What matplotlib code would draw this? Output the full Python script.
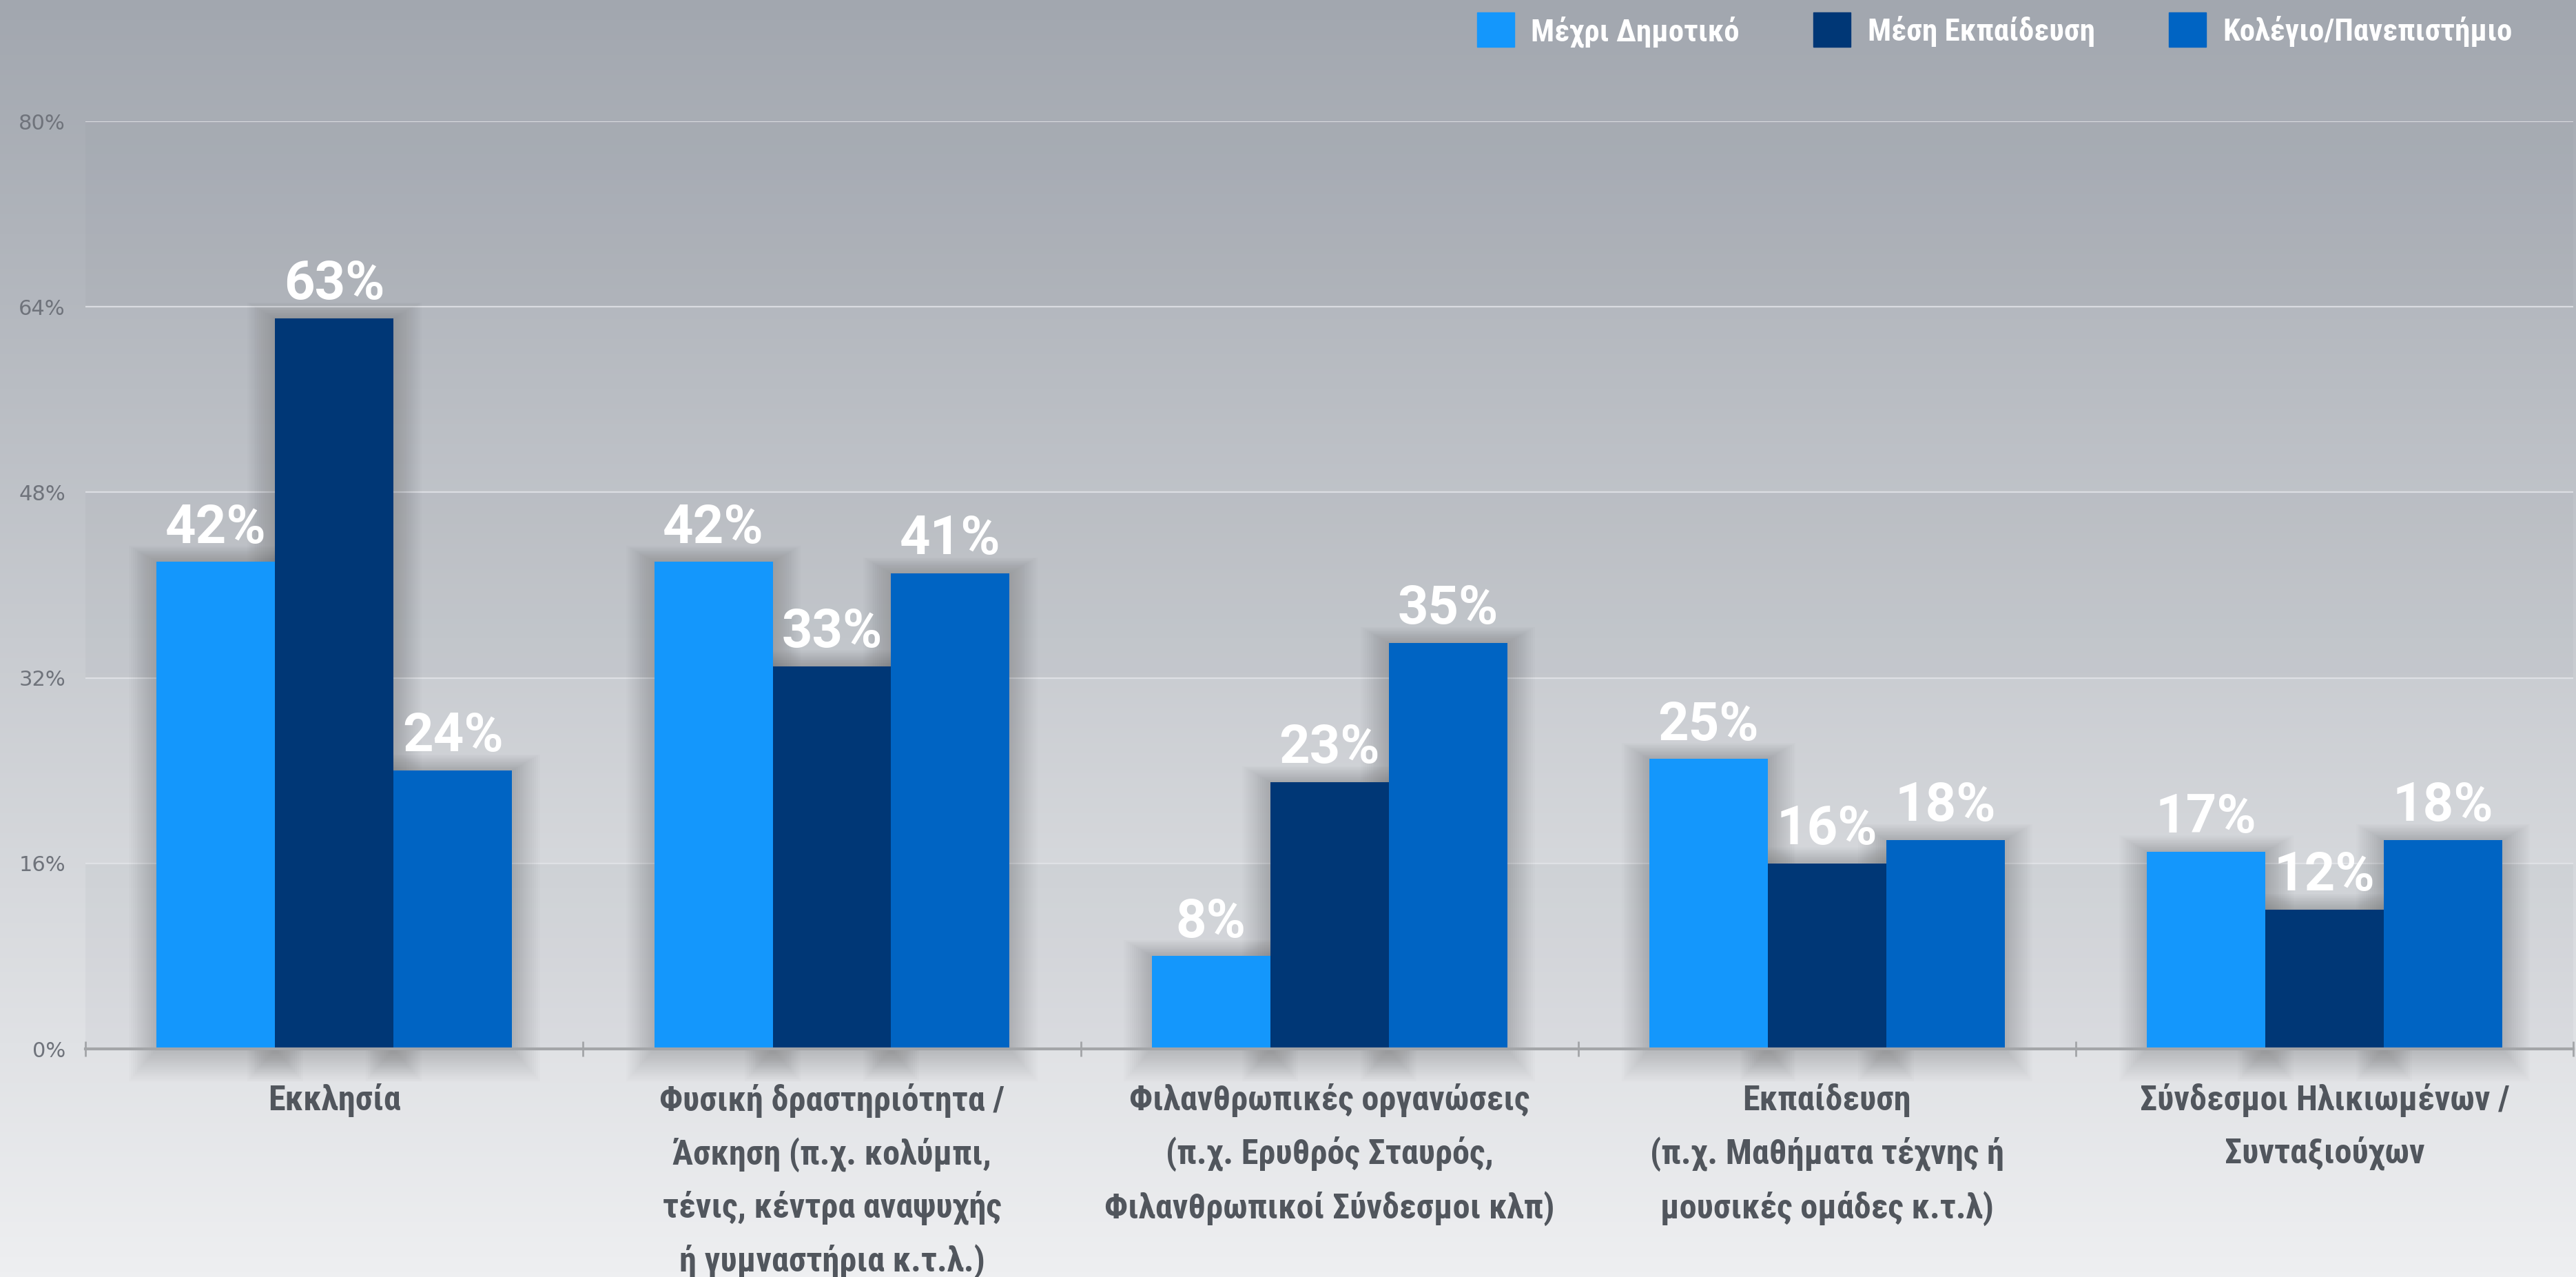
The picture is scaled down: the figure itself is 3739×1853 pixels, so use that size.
'''
Grouped bar chart: participation in organisations by education level.
'''

# Imports

import numpy as np
import matplotlib.pyplot as plt
from matplotlib.patches import Rectangle

# Data

categories = [
    "Εκκλησία",
    "Φυσική δραστηριότητα /\nΆσκηση (π.χ. κολύμπι,\nτένις, κέντρα αναψυχής\nή γυμναστήρια κ.τ.λ.)",
    "Φιλανθρωπικές οργανώσεις\n(π.χ. Ερυθρός Σταυρός,\nΦιλανθρωπικοί Σύνδεσμοι κλπ)",
    "Εκπαίδευση\n(π.χ. Μαθήματα τέχνης ή\nμουσικές ομάδες κ.τ.λ)",
    "Σύνδεσμοι Ηλικιωμένων /\nΣυνταξιούχων",
]
series_names = ["Μέχρι Δημοτικό", "Μέση Εκπαίδευση", "Κολέγιο/Πανεπιστήμιο"]
primary = [42, 42, 8, 25, 17]
secondary = [63, 33, 23, 16, 12]
college = [24, 41, 35, 18, 18]
y_ticks = [0, 16, 32, 48, 64, 80]

colors = ["#1497fc", "#003776", "#0064c3"]
narrow = ["Liberation Sans Narrow", "Roboto Condensed", "Noto Sans", "DejaVu Sans"]

# Figure

W, H, DPI = 3739, 1853, 100
fig = plt.figure(figsize=(W / DPI, H / DPI), dpi=DPI)

# background gradient
bg = fig.add_axes([0, 0, 1, 1], zorder=-10)
top = np.array([0xa2, 0xa7, 0xaf]) / 255
bot = np.array([0xee, 0xef, 0xf1]) / 255
t = np.linspace(0, 1, 256)[:, None]
grad = top + (bot - top) * t
bg.imshow(grad[:, None, :], aspect="auto", extent=[0, 1, 0, 1])
bg.axis("off")

ax = fig.add_axes([0.0332, 0.1786, 0.9658, 0.7264])
ax.patch.set_alpha(0)

x = np.arange(len(categories))
w = 0.238
values = [primary, secondary, college]

ax.set_xlim(-0.5, len(categories) - 0.5)
ax.set_ylim(0, 80)

# alternating bands
for lo in (0, 32, 64):
    ax.axhspan(lo, lo + 16, color="#7f8590", alpha=0.07, lw=0, zorder=0)
for yt in y_ticks[1:]:
    ax.axhline(yt, color="#e4e6ea", lw=1.6, alpha=0.8, zorder=1)

# soft shadows behind bars
for i, vals in enumerate(values):
    xs = x + (i - 1) * w
    for s in range(1, 15):
        ax.bar(xs, np.array(vals) + 0.3 * s, bottom=-0.2 * s, width=w + 0.008 * s,
               color="black", alpha=0.011, lw=0, zorder=2, clip_on=False)

for i, vals in enumerate(values):
    xs = x + (i - 1) * w
    ax.bar(xs, vals, width=w, color=colors[i], lw=0, zorder=3, label=series_names[i])
    for xi, v in zip(xs, vals):
        ax.annotate(f"{v}%", (xi, v), xytext=(0, 20), textcoords="offset points",
                    ha="center", va="baseline", color="white", fontsize=56,
                    fontweight="bold", family="Roboto", zorder=5)

# axes styling
for side in ("top", "right", "left"):
    ax.spines[side].set_visible(False)
ax.spines["bottom"].set_color("#a3a5a8")
ax.spines["bottom"].set_linewidth(3)
ax.spines["bottom"].set_zorder(4)

ax.set_yticks(y_ticks)
ax.set_yticklabels([f"{v}%" for v in y_ticks], family="DejaVu Sans",
                   fontsize=22, color="#6f737b")
ax.tick_params(axis="y", length=0, pad=21)

ax.set_xticks(x)
ax.set_xticklabels(categories, family=narrow, fontweight="bold", fontstretch="condensed",
                   fontsize=38, color="#51565d", linespacing=1.7)
ax.tick_params(axis="x", which="major", length=0, pad=36)
ax.set_xticks(np.arange(len(categories) + 1) - 0.5, minor=True)
ax.tick_params(axis="x", which="minor", length=16, width=2, color="#a3a5a8",
               direction="inout")

# legend
handles = [Rectangle((0, 0), 1, 1, color=c) for c in colors]
leg = fig.legend(handles, series_names, loc="upper right", bbox_to_anchor=(0.987, 1.014),
                 ncol=3, frameon=False, handlelength=1.12, handleheight=1.2,
                 columnspacing=2.2, handletextpad=0.5,
                 prop={"family": narrow, "weight": "bold", "stretch": "condensed", "size": 35})
for txt in leg.get_texts():
    txt.set_color("white")

# fit the condensed text widths to the reference (widest category line ~653 px)
fig.canvas.draw()
r = fig.canvas.get_renderer()
widest = max(lb.get_window_extent(r).width for lb in ax.get_xticklabels())
scale = 653 / widest
for lb in ax.get_xticklabels():
    lb.set_fontsize(38 * min(scale, 1.3))
leg_w = sum(tx.get_window_extent(r).width for tx in leg.get_texts())
for txt in leg.get_texts():
    txt.set_fontsize(35 * min(1054 / leg_w, 1.3))

fig.savefig("out.png", dpi=DPI)
